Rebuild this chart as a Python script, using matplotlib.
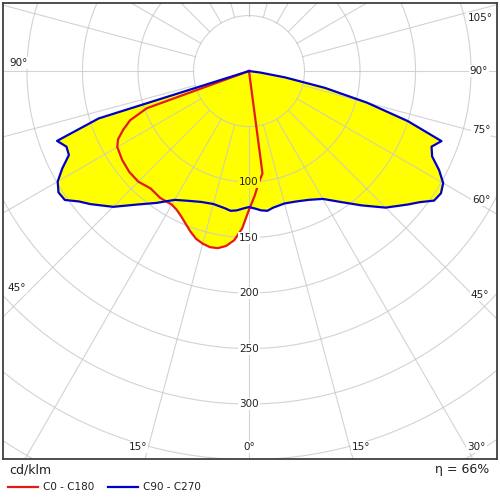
import numpy as np
import matplotlib
matplotlib.use("Agg")
import matplotlib.pyplot as plt
from matplotlib.lines import Line2D
from matplotlib.path import Path

# =========================
# Photometric data (cd/klm), gamma in degrees from nadir
# negative gamma = left half of the diagram
# =========================
red_gamma = [10, 7.5, 5, 2.5, 0, -2.5, -5, -7.5, -10, -12.5, -15, -17.5, -20,
             -22.5, -25, -27.5, -30, -35, -40, -45, -50, -55, -60, -62.5,
             -65, -67.5, -70, -75]
red_I = [0, 93, 101, 113, 125, 142, 153, 159, 162, 162.5, 161, 158.5, 154,
         149, 144.5, 141, 139, 139.5, 138, 141, 141, 139.5, 137, 133,
         125, 116, 98, 0]

blue_right_gamma = [0, 2.5, 5, 7.5, 10, 15, 20, 25, 30, 35, 40, 45, 50, 52.5,
                    55, 57.5, 60, 62.5, 65, 67.5, 70, 72.5, 75, 77.5, 80,
                    82.5, 85]
blue_right_I = [122.5, 124, 126, 127, 125, 123.5, 125, 128, 133, 144, 158,
                174, 187, 194, 203.5, 205, 202, 193, 182, 178, 184.5, 150,
                110, 70, 33, 10, 0]

blue_left_gamma = [0, 2.5, 5, 7.5, 10, 15, 20, 25, 30, 35, 40, 45, 50, 52.5,
                   55, 57.5, 60, 62.5, 65, 67.5, 70, 72.5, 75]
blue_left_I = [122.5, 124, 126, 127, 125.5, 124, 125.5, 129, 134, 145, 157,
               173, 186.5, 193, 202.5, 203.5, 199, 189.5, 179, 178, 184,
               142, 0]

ring_values = [50, 100, 150, 200, 250, 300, 350, 400, 450]
ring_labels = [100, 150, 200, 250, 300]
spoke_angles = np.arange(-180, 181, 15)

# angle labels: text and position (cd/klm units)
angle_texts = ["105°", "90°", "75°", "60°", "45°", "30°", "15°", "0°", "15°", "45°", "90°"]
angle_x = [208, 207, 209, 209, 208, 205, 101, 0, -100, -209, -208]
angle_y = [47.7, 0, -53.2, -116.2, -201.8, -338.7, -338.7, -338.7, -338.7, -195.5, 7.2]

red_color = "#e41a1c"
blue_color = "#0000c8"
fill_color = "#ffff00"
grid_color = "#c8c8c8"


def to_xy(gamma, intensity):
    g = np.radians(np.asarray(gamma, dtype=float))
    r = np.asarray(intensity, dtype=float)
    return r * np.sin(g), -r * np.cos(g)


# blue path: left half (reversed, negative side) then right half
blue_gamma = [-g for g in blue_left_gamma[::-1]] + blue_right_gamma[1:]
blue_I = blue_left_I[::-1] + blue_right_I[1:]
bx, by = to_xy(blue_gamma, blue_I)
rx, ry = to_xy(red_gamma, red_I)

fig = plt.figure(figsize=(5, 5), dpi=100)
ax = fig.add_axes([3 / 500, 1 - 459 / 500, 494 / 500, 456 / 500])
ax.set_xlim(-221.6, 223.4)
ax.set_ylim(-349.5, 61.3)
ax.set_xticks([])
ax.set_yticks([])
for s in ax.spines.values():
    s.set_color("#404040")
    s.set_linewidth(1.3)

# fill (union of both curves)
ax.fill(bx, by, color=fill_color, lw=0, zorder=1)
ax.fill(rx, ry, color=fill_color, lw=0, zorder=1)

# grid
t = np.linspace(0, 2 * np.pi, 400)
for r in ring_values:
    ax.plot(r * np.cos(t), r * np.sin(t), color=grid_color, lw=0.8,
            alpha=0.8, zorder=2)
for a in spoke_angles:
    sx, sy = to_xy([a, a], [50, 700])
    ax.plot(sx, sy, color=grid_color, lw=0.8, alpha=0.8, zorder=2)

# curves
ax.plot(bx, by, color=blue_color, lw=1.6, zorder=4, solid_joinstyle="round")
ax.plot(rx, ry, color=red_color, lw=1.6, zorder=3, solid_joinstyle="round")

# ring labels
blue_path = Path(np.column_stack([bx, by]))
for v in ring_labels:
    inside = blue_path.contains_point((0, -v))
    ax.text(0, -v, str(v), ha="center", va="center", fontsize=7.5,
            color="#202020", zorder=5,
            bbox=dict(boxstyle="square,pad=0.1",
                      fc=fill_color if inside else "white", ec="none"))

# angle labels
for txt, x, y in zip(angle_texts, angle_x, angle_y):
    ax.text(x, y, txt, ha="center", va="center", fontsize=7.5,
            color="#202020", zorder=5,
            bbox=dict(boxstyle="square,pad=0.1", fc="white", ec="none"))

# legend / footer
fig.text(9 / 500, 1 - 470 / 500, "cd/klm", ha="left", va="center",
         fontsize=9, color="#202020")
fig.text(489 / 500, 1 - 470 / 500, "η = 66%", ha="right", va="center",
         fontsize=9, color="#202020")
fig.add_artist(Line2D([8 / 500, 38 / 500], [1 - 487 / 500] * 2,
                      color=red_color, lw=1.6))
fig.text(43 / 500, 1 - 487 / 500, "C0 - C180", ha="left", va="center",
         fontsize=7.5, color="#202020")
fig.add_artist(Line2D([108 / 500, 138 / 500], [1 - 487 / 500] * 2,
                      color=blue_color, lw=1.6))
fig.text(143 / 500, 1 - 487 / 500, "C90 - C270", ha="left", va="center",
         fontsize=7.5, color="#202020")

fig.savefig("out.png", dpi=100)
